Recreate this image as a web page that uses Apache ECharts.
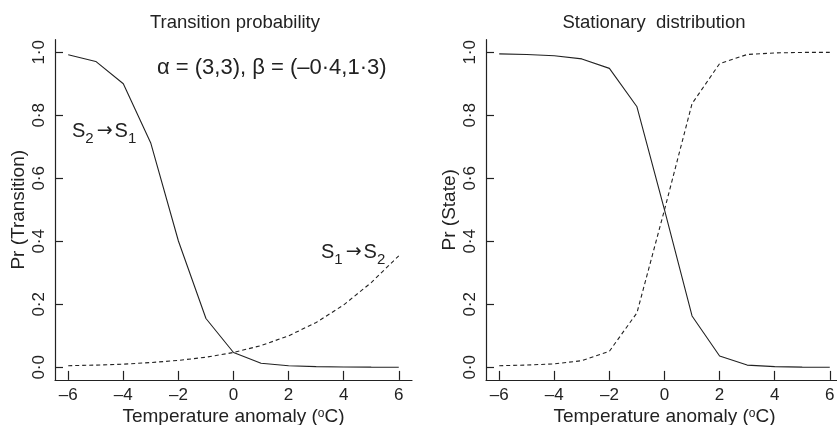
<!DOCTYPE html>
<html>
<head>
<meta charset="utf-8">
<script src="https://cdn.jsdelivr.net/npm/echarts@6.0.0/dist/echarts.min.js"></script>
<style>
  html, body { margin: 0; padding: 0; background: #fff; }
  #root { width: 837px; height: 425px; }
</style>
</head>
<body>
<div id="root"></div>
<script>
// temperature anomaly (x) values shared by all lines
const temps = [-6, -5, -4, -3, -2, -1, 0, 1, 2, 3, 4, 5, 6]
// left panel: transition probabilities
const transS2toS1 = [0.992, 0.971, 0.900, 0.711, 0.401, 0.155, 0.047, 0.013, 0.005, 0.002, 0.001, 0.0005, 0.0002]
const transS1toS2 = [0.005, 0.007, 0.010, 0.015, 0.022, 0.032, 0.047, 0.069, 0.100, 0.142, 0.198, 0.269, 0.354]
// right panel: stationary distribution
const stateS1 = [0.995, 0.993, 0.989, 0.979, 0.949, 0.827, 0.500, 0.163, 0.036, 0.007, 0.002, 0.0004, 0.0001]
const stateS2 = [0.005, 0.007, 0.011, 0.021, 0.051, 0.173, 0.500, 0.837, 0.964, 0.993, 0.998, 0.9996, 0.9999]
// tick labels
const xTicks = [-6, -4, -2, 0, 2, 4, 6]
const yTicks = [0, 0.2, 0.4, 0.6, 0.8, 1.0]

const FONT = '"Liberation Sans", Arial, sans-serif'
const INK = '#222'

const pairs = ys => temps.map((t, i) => [t, ys[i]])

const xFmt = v => (v < 0 ? '\u2013' + Math.abs(v) : String(v))
const yFmt = v => v.toFixed(1).replace('.', '\u00b7')

const makeX = gridIndex => ({
  gridIndex,
  type: 'value',
  min: -6.48,
  max: 6.48,
  axisLine: { onZero: false, lineStyle: { color: INK, width: 1.2 } },
  axisTick: { inside: true, length: 9, customValues: xTicks, lineStyle: { color: INK, width: 1.2 } },
  axisLabel: { customValues: xTicks, formatter: xFmt, margin: 7, fontSize: 17, color: INK, fontFamily: FONT },
  splitLine: { show: false },
  name: 'Temperature anomaly ({sup|o}C)',
  nameLocation: 'middle',
  nameGap: 28,
  nameMoveOverlap: false,
  nameTextStyle: {
    fontSize: 19, color: INK, fontFamily: FONT, lineHeight: 18,
    rich: { sup: { fontSize: 12, color: INK, fontFamily: FONT, verticalAlign: 'top', lineHeight: 18 } }
  }
})

const makeY = (gridIndex, name) => ({
  gridIndex,
  type: 'value',
  min: -0.04,
  max: 1.04,
  axisLine: { show: true, onZero: false, lineStyle: { color: INK, width: 1.2 } },
  axisTick: { show: true, inside: true, length: 8, customValues: yTicks, lineStyle: { color: INK, width: 1.2 } },
  axisLabel: { customValues: yTicks, formatter: yFmt, rotate: 90, margin: 7, fontSize: 17, color: INK, fontFamily: FONT },
  splitLine: { show: false },
  name,
  nameLocation: 'middle',
  nameGap: 27,
  nameMoveOverlap: false,
  nameTextStyle: { fontSize: 19, color: INK, fontFamily: FONT }
})

const lineSeries = (xi, data, dashed) => ({
  type: 'line',
  xAxisIndex: xi,
  yAxisIndex: xi,
  data: pairs(data),
  showSymbol: false,
  silent: true,
  lineStyle: { color: INK, width: 1.1, type: dashed ? [4, 3] : 'solid' }
})

const subRich = {
  m: { fontSize: 20, color: INK, fontFamily: FONT, lineHeight: 20 },
  a: { fontSize: 19, color: INK, fontFamily: '"DejaVu Sans", sans-serif', lineHeight: 20, padding: [0, 2, 0, 3] },
  s: { fontSize: 15, color: INK, fontFamily: FONT, lineHeight: 31, verticalAlign: 'bottom' }
}

const option = {
  animation: false,
  backgroundColor: '#fff',
  textStyle: { fontFamily: FONT },
  title: [
    { text: 'Transition probability', left: 235, top: 13, textAlign: 'center', padding: 0,
      textStyle: { fontSize: 18.5, fontWeight: 'normal', color: INK, fontFamily: FONT } },
    { text: 'Stationary  distribution', left: 654, top: 13, textAlign: 'center', padding: 0,
      textStyle: { fontSize: 18.5, fontWeight: 'normal', color: INK, fontFamily: FONT } }
  ],
  grid: [
    { left: 55, top: 39.7, width: 357, height: 340.2, outerBoundsMode: 'none', containLabel: false },
    { left: 486, top: 39.7, width: 357, height: 340.2, outerBoundsMode: 'none', containLabel: false }
  ],
  xAxis: [makeX(0), makeX(1)],
  yAxis: [makeY(0, 'Pr (Transition)'), makeY(1, 'Pr (State)')],
  series: [
    lineSeries(0, transS2toS1, false),
    lineSeries(0, transS1toS2, true),
    lineSeries(1, stateS1, false),
    lineSeries(1, stateS2, true)
  ],
  graphic: [
    { type: 'text', left: 157, top: 57, silent: true,
      style: { text: '\u03b1 = (3,3), \u03b2 = (\u20130\u00b74,1\u00b73)', fontSize: 22, fill: INK, fontFamily: FONT } },
    { type: 'text', left: 72, top: 121, silent: true,
      style: { text: '{m|S}{s|2}{a|\u2192}{m|S}{s|1}', rich: subRich, fill: INK } },
    { type: 'text', left: 321, top: 242, silent: true,
      style: { text: '{m|S}{s|1}{a|\u2192}{m|S}{s|2}', rich: subRich, fill: INK } }
  ]
}

const chart = echarts.init(document.getElementById('root'), null, { renderer: 'canvas' })
chart.setOption(option)
</script>
</body>
</html>
